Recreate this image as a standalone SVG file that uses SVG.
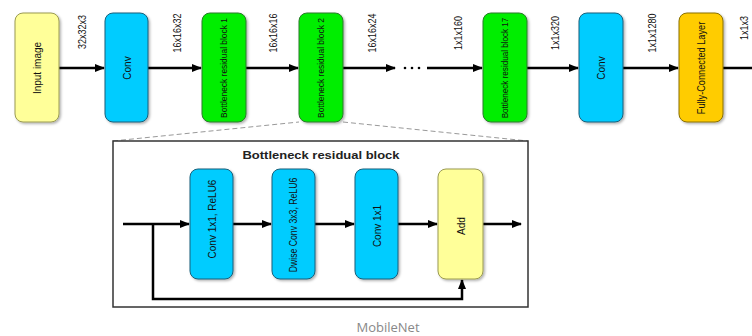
<svg xmlns="http://www.w3.org/2000/svg" width="752" height="336" viewBox="0 0 752 336">
<style>
.node{stroke-width:1}
.yellow{fill:#ffff99;stroke:#9a9a50}
.cyan{fill:#00ccff;stroke:#1a5f7a}
.green{fill:#00ee00;stroke:#2a7a2a}
.orange{fill:#ffcc00;stroke:#8a7000}
.lbl{font-family:"Liberation Sans",Arial,sans-serif;font-size:10px;fill:#111;text-anchor:middle;dominant-baseline:central}
.dim{font-family:"Liberation Sans",Arial,sans-serif;font-size:9px;fill:#111;text-anchor:middle;dominant-baseline:central}
.conn{stroke:#000;stroke-width:2.5;fill:none}
.dash{stroke:#999;stroke-width:1;stroke-dasharray:5,3;fill:none}
</style>
<defs>
<marker id="arr" viewBox="0 0 10 10" refX="9" refY="5" markerWidth="4" markerHeight="4" orient="auto" markerUnits="strokeWidth">
<path d="M0,1 L10,5 L0,9 z" fill="#000"/>
</marker>
<filter id="sh" x="-20%" y="-10%" width="150%" height="130%">
<feDropShadow dx="1.5" dy="1.5" stdDeviation="1" flood-color="#000" flood-opacity="0.3"/>
</filter>
</defs>
<rect width="752" height="336" fill="#fff"/>

<g id="connectors">
<line class="conn" x1="59" y1="68" x2="104" y2="68" marker-end="url(#arr)"/>
<line class="conn" x1="148" y1="68" x2="201" y2="68" marker-end="url(#arr)"/>
<line class="conn" x1="246" y1="68" x2="298" y2="68" marker-end="url(#arr)"/>
<line class="conn" x1="343" y1="68" x2="395" y2="68" marker-end="url(#arr)"/>
<line class="conn" x1="427" y1="68" x2="482" y2="68" marker-end="url(#arr)"/>
<line class="conn" x1="527" y1="68" x2="578" y2="68" marker-end="url(#arr)"/>
<line class="conn" x1="623" y1="68" x2="678" y2="68" marker-end="url(#arr)"/>
<line class="conn" x1="723" y1="68" x2="752" y2="68"/>
<line class="dash" x1="113" y1="141" x2="299" y2="122"/>
<line class="dash" x1="343" y1="122" x2="528" y2="141"/>
<g fill="#000"><circle cx="405" cy="68" r="1.3"/><circle cx="412" cy="68" r="1.3"/><circle cx="419" cy="68" r="1.3"/></g>
</g>

<g id="dims">
<text class="dim" transform="translate(82,32) scale(1.15,1) rotate(-90)">32x32x3</text>
<text class="dim" transform="translate(177,33) scale(1.15,1) rotate(-90)">16x16x32</text>
<text class="dim" transform="translate(273,33) scale(1.15,1) rotate(-90)">16x16x16</text>
<text class="dim" transform="translate(372,33) scale(1.15,1) rotate(-90)">16x16x24</text>
<text class="dim" transform="translate(458,33) scale(1.15,1) rotate(-90)">1x1x160</text>
<text class="dim" transform="translate(555,33) scale(1.15,1) rotate(-90)">1x1x320</text>
<text class="dim" transform="translate(652,33) scale(1.15,1) rotate(-90)">1x1x1280</text>
<text class="dim" transform="translate(744,28) scale(1.15,1) rotate(-90)">1x1x3</text>
</g>

<g id="input-image"><rect class="node yellow" x="15" y="13" width="44" height="109" rx="8" filter="url(#sh)"/><text class="lbl" transform="translate(37,68) scale(1.15,1) rotate(-90)">Input image</text></g>
<g id="conv1"><rect class="node cyan" x="105" y="13" width="43" height="109" rx="8" filter="url(#sh)"/><text class="lbl" transform="translate(126.5,68) scale(1.15,1) rotate(-90)">Conv</text></g>
<g id="block1"><rect class="node green" x="202" y="13" width="44" height="109" rx="8" filter="url(#sh)"/><text class="lbl" style="font-size:8.4px" transform="translate(224,68) scale(1.15,1) rotate(-90)">Bottleneck residual block 1</text></g>
<g id="block2"><rect class="node green" x="299" y="13" width="44" height="109" rx="8" filter="url(#sh)"/><text class="lbl" style="font-size:8.4px" transform="translate(321,68) scale(1.15,1) rotate(-90)">Bottleneck residual block 2</text></g>
<g id="block17"><rect class="node green" x="483" y="13" width="44" height="109" rx="8" filter="url(#sh)"/><text class="lbl" style="font-size:8.1px" transform="translate(505,68) scale(1.15,1) rotate(-90)">Bottleneck residual block 17</text></g>
<g id="conv2"><rect class="node cyan" x="579" y="13" width="44" height="109" rx="8" filter="url(#sh)"/><text class="lbl" transform="translate(601,68) scale(1.15,1) rotate(-90)">Conv</text></g>
<g id="fc"><rect class="node orange" x="679" y="13" width="44" height="109" rx="8" filter="url(#sh)"/><text class="lbl" style="font-size:9.2px" transform="translate(701,68) scale(1.15,1) rotate(-90)">Fully-Connected Layer</text></g>

<g id="bottleneck-box">
<rect x="113" y="141" width="415" height="166" fill="#fff" stroke="#333" stroke-width="1.5"/>
<text x="321" y="159" font-family="'Liberation Sans',Arial,sans-serif" font-size="10.5" font-weight="bold" fill="#222" text-anchor="middle" textLength="157" lengthAdjust="spacingAndGlyphs">Bottleneck residual block</text>
</g>

<g id="inner-connectors">
<line class="conn" x1="123" y1="224" x2="189" y2="224" marker-end="url(#arr)"/>
<line class="conn" x1="233" y1="224" x2="271" y2="224" marker-end="url(#arr)"/>
<line class="conn" x1="315" y1="224" x2="354" y2="224" marker-end="url(#arr)"/>
<line class="conn" x1="398" y1="224" x2="437" y2="224" marker-end="url(#arr)"/>
<line class="conn" x1="483" y1="224" x2="521" y2="224" marker-end="url(#arr)"/>
<polyline class="conn" points="153,224 153,299 462,299 462,280" marker-end="url(#arr)"/>
</g>

<g id="conv1x1-relu6"><rect class="node cyan" x="190" y="169" width="43" height="110" rx="8" filter="url(#sh)"/><text class="lbl" transform="translate(211.5,219) scale(1.15,1) rotate(-90)">Conv 1x1, ReLU6</text></g>
<g id="dwise-conv"><rect class="node cyan" x="272" y="169" width="43" height="110" rx="8" filter="url(#sh)"/><text class="lbl" style="font-size:8.7px" transform="translate(293.5,225) scale(1.15,1) rotate(-90)">Dwise Conv 3x3, ReLU6</text></g>
<g id="conv1x1"><rect class="node cyan" x="355" y="169" width="43" height="110" rx="8" filter="url(#sh)"/><text class="lbl" transform="translate(376.5,226) scale(1.15,1) rotate(-90)">Conv 1x1</text></g>
<g id="add"><rect class="node yellow" x="438" y="169" width="45" height="110" rx="8" filter="url(#sh)"/><text class="lbl" transform="translate(460.5,226) scale(1.15,1) rotate(-90)">Add</text></g>

<text x="388" y="332" font-family="'Open Sans','Noto Sans',sans-serif" font-size="13" fill="#888" text-anchor="middle">MobileNet</text>
</svg>
